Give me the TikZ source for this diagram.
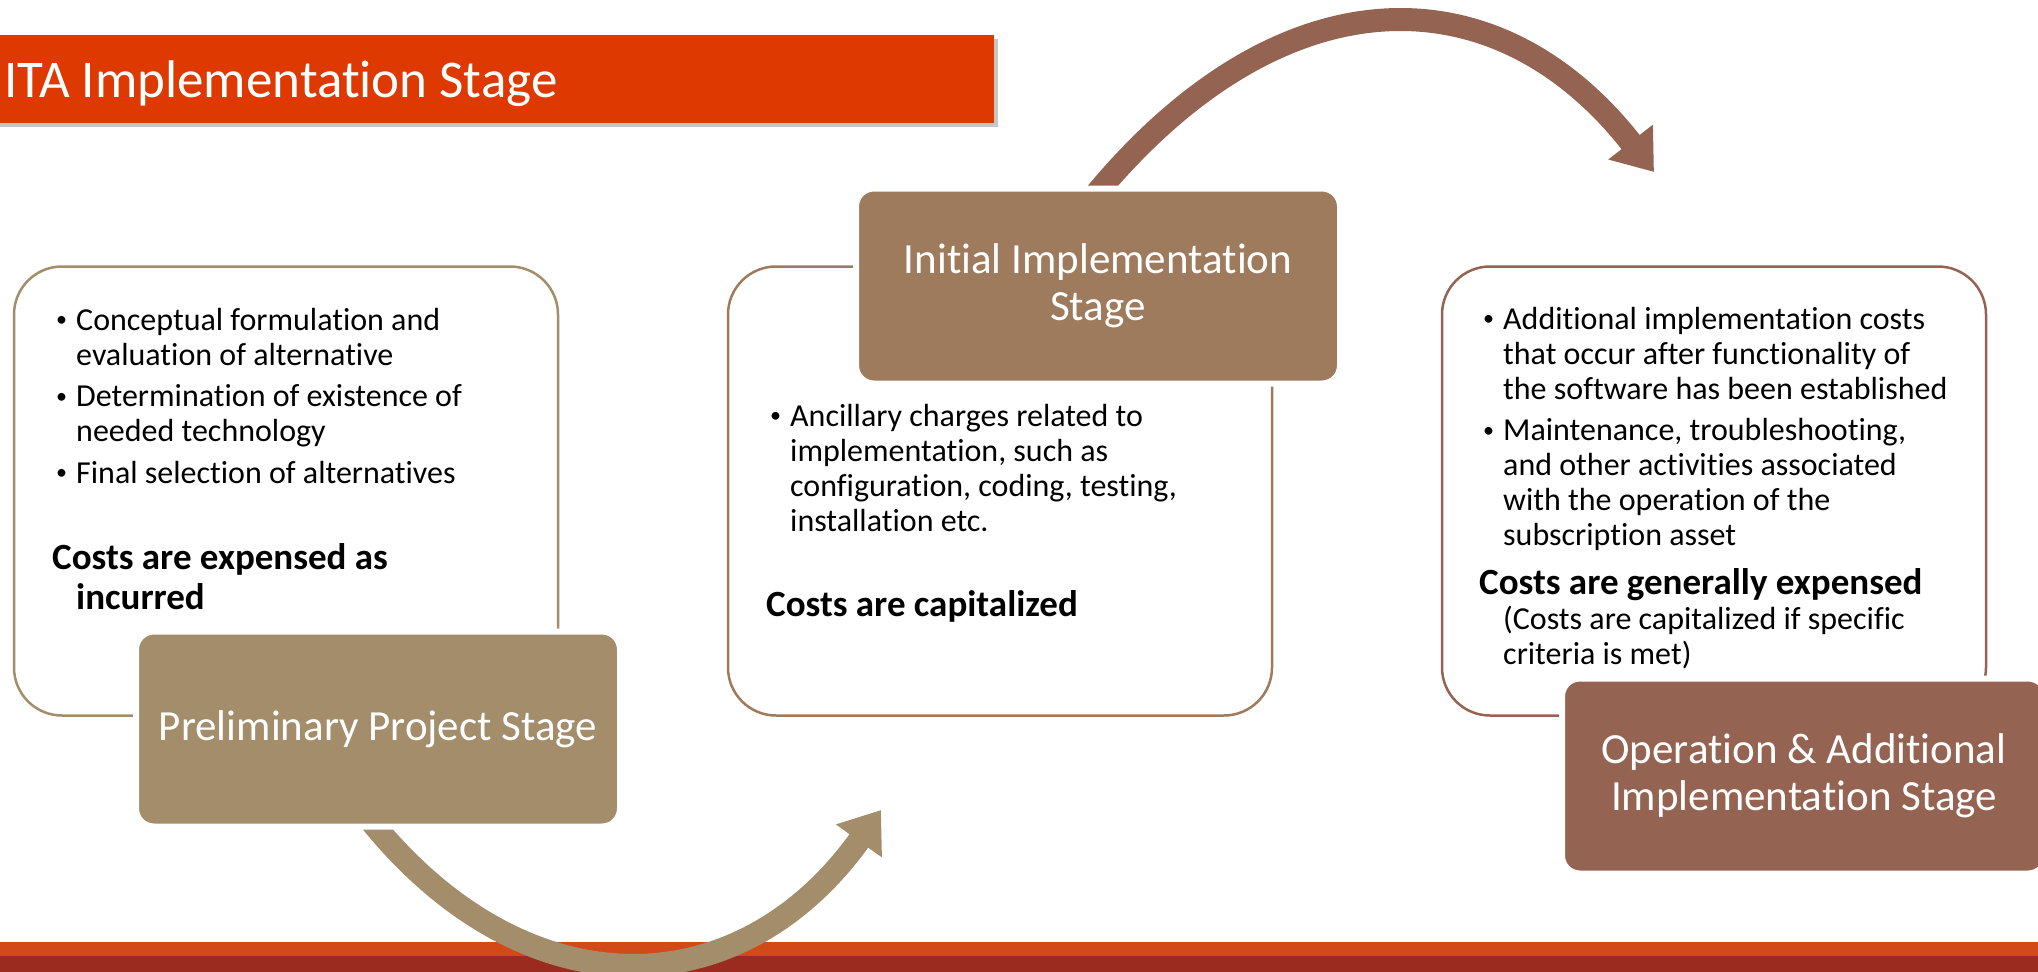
\documentclass[tikz,border=0pt]{standalone}
\usepackage{fontspec}
\setmainfont{Carlito}[Ligatures=NoCommon]
\usepackage{tikz}
\usetikzlibrary{arrows.meta,shadows,backgrounds}
\definecolor{titlered}{RGB}{221, 57, 0}
\definecolor{barorange}{RGB}{209, 74, 24}
\definecolor{bardark}{RGB}{155, 43, 30}
\definecolor{prelimcol}{RGB}{163, 141, 107}
\definecolor{initialcol}{RGB}{157, 123, 92}
\definecolor{operatecol}{RGB}{149, 99, 82}
\newcommand{\bodysize}{\fontsize{32}{35}\selectfont}
\newcommand{\costsize}{\fontsize{37}{40}\selectfont\bfseries}
\newcommand{\stagebullet}[1]{\hangindent=24pt\hangafter=1\noindent\makebox[24pt][l]{\hspace{4pt}\raisebox{3.5pt}{\fontsize{22}{22}\selectfont\textbullet}}#1\par}
\newcommand{\costline}[1]{\hangindent=24pt\hangafter=1\noindent#1\par}

\begin{document}
\begin{tikzpicture}[
  stagebox/.style={rounded corners=48pt, line width=2.5pt, minimum width=544pt, minimum height=449pt},
  stagelabel/.style={rounded corners=18pt, draw=white, line width=6pt, minimum width=484pt, minimum height=195pt, text=white, align=flush center, font=\fontsize{43}{47}\selectfont},
  stagetext/.style={anchor=base west, inner sep=0pt, text width=520pt, align=flush left, font=\bodysize},
  stagearrow/.style={line width=23pt, -{Triangle[length=38pt, width=54pt]}}]
\useasboundingbox (0pt,0pt) rectangle (2038pt,-972pt);
% bottom bars
\begin{scope}[on background layer]
\fill [barorange] (0pt,-942pt) rectangle (2038pt,-956pt);
\fill [bardark] (0pt,-956pt) rectangle (2038pt,-972pt);
\end{scope}
% title
\node (titlebar) [fill=titlered, minimum width=1030pt, minimum height=88pt, inner sep=0pt, anchor=north east, drop shadow={shadow xshift=4pt, shadow yshift=-4pt, opacity=0.45}] at (994pt, -35pt) {};
\node (titletext) [anchor=base west, inner sep=0pt, text=white, font=\fontsize{53}{62}\selectfont] at (4pt, -97pt) {ITA Implementation Stage};
% outline boxes
\node (prelimbox) [stagebox, draw=prelimcol] at (286pt, -491pt) {};
\node (initialbox) [stagebox, draw=initialcol] at (1000pt, -491pt) {};
\node (operatebox) [stagebox, draw=operatecol] at (1714pt, -491pt) {};
% box texts
\node (prelimtext) [stagetext] at (52pt, -330pt) {%
  \stagebullet{Conceptual formulation and\newline evaluation of alternative}%
  \vspace{6.5pt}%
  \stagebullet{Determination of existence of\newline needed technology}%
  \vspace{6.5pt}%
  \stagebullet{Final selection of alternatives}%
  \vspace{46pt}%
  \costline{\costsize Costs are expensed as\newline incurred}};
\node (initialtext) [stagetext] at (766pt, -426pt) {%
  \stagebullet{Ancillary charges related to\newline implementation, such as\newline configuration, coding, testing,\newline installation etc.}%
  \vspace{45pt}%
  \costline{\costsize Costs are capitalized}};
\node (operatetext) [stagetext] at (1479pt, -329pt) {%
  \stagebullet{Additional implementation costs\newline that occur after functionality of\newline the software has been established}%
  \vspace{6.5pt}%
  \stagebullet{Maintenance, troubleshooting,\newline and other activities associated\newline with the operation of the\newline subscription asset}%
  \vspace{14pt}%
  \costline{{\costsize Costs are generally expensed}\newline (Costs are capitalized if specific\newline criteria is met)}};
% stage labels
\node (prelim) [stagelabel, fill=prelimcol] at (378pt, -729pt) {Preliminary Project Stage};
\node (initial) [stagelabel, fill=initialcol] at (1098pt, -286pt) {Initial Implementation\\Stage};
\node (operate) [stagelabel, fill=operatecol] at (1804pt, -776pt) {Operation \& Additional\\Implementation Stage};
% arrows
\coordinate (tipone) at (881pt, -810pt);
\coordinate (tiptwo) at (1654pt, -172pt);
\begin{scope}[on background layer]
\draw [stagearrow, prelimcol] ([xshift=-10pt, yshift=12pt]prelim.south) .. controls (522pt, -1011pt) and (737pt, -1011pt) .. (tipone);
\draw [stagearrow, operatecol] ([xshift=-5pt, yshift=-12pt]initial.north) .. controls (1280pt, 30pt) and (1496pt, 30pt) .. (tiptwo);
\end{scope}
\end{tikzpicture}
\end{document}
